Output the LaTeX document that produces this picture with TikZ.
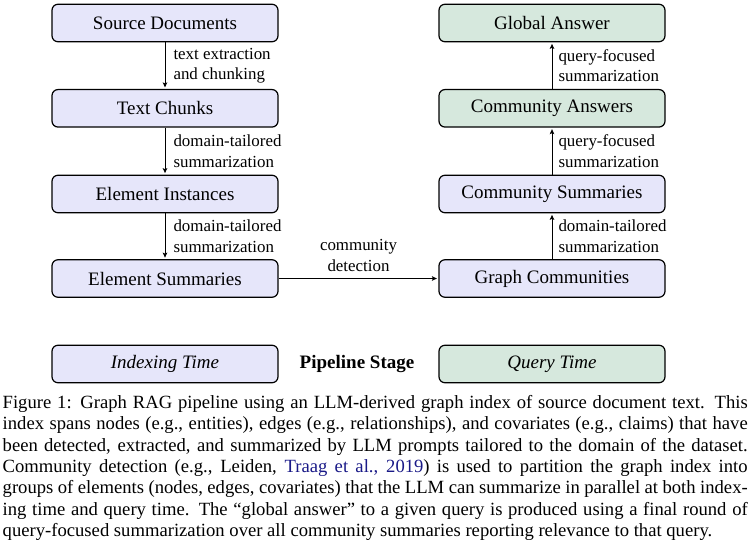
\documentclass[tikz,border=0pt]{standalone}
\usepackage{fontspec}
\setmainfont{Liberation Serif}
\usetikzlibrary{arrows.meta}
\definecolor{boxblue}{RGB}{230,230,250}
\definecolor{boxgreen}{RGB}{214,232,221}
\definecolor{citeblue}{RGB}{25,25,135}
\begin{document}
\begin{tikzpicture}[x=1pt,y=-1pt,
  stage/.style={draw=black, line width=1.2pt, rounded corners=6pt,
    minimum width=226pt, minimum height=37.5pt, inner sep=0pt,
    font=\fontsize{19}{22}\selectfont},
  idx/.style={stage, fill=boxblue},
  qry/.style={stage, fill=boxgreen},
  flow/.style={-{Stealth[length=5pt,width=4.5pt,inset=1pt]}, line width=1pt, shorten >=1.5pt},
  lbl/.style={font=\fontsize{16.9}{20.5}\selectfont, align=left, inner sep=0pt},
  capstyle/.style={anchor=north west, inner sep=0pt, text width=745pt,
    align=justify, font=\fontsize{18.64}{21.4}\selectfont}
]
\useasboundingbox (0,0) rectangle (750,546);
% left column
\node[idx] (src) at (165,23) {Source Documents};
\node[idx] (chk) at (165,108.3) {Text Chunks};
\node[idx] (ei)  at (165,194) {Element Instances};
\node[idx] (es)  at (165,278.5) {Element Summaries};
\node[idx] (it)  at (165,364) {\textit{Indexing Time}};
% right column
\node[qry] (ga) at (552,23) {Global Answer};
\node[qry] (ca) at (552,108.3) {Community Answers};
\node[idx] (cs) at (552,194) {Community Summaries};
\node[idx] (gc) at (552,278.5) {Graph Communities};
\node[qry] (qt) at (552,364) {\textit{Query Time}};
\node[anchor=base, inner sep=0pt, font=\fontsize{19}{22}\selectfont] (ps) at (357,368) {\textbf{Pipeline Stage}};
% connectors
\draw[flow] (src) -- node[lbl, anchor=west, xshift=8pt]{text extraction\\and chunking} (chk);
\draw[flow] (chk) -- node[lbl, anchor=west, xshift=8pt]{domain-tailored\\summarization} (ei);
\draw[flow] (ei) -- node[lbl, anchor=west, xshift=8pt]{domain-tailored\\summarization} (es);
\draw[flow] (es) -- node[lbl, anchor=south, align=center, yshift=6.5pt]{community\\detection} (gc);
\draw[flow] (gc) -- node[lbl, anchor=west, xshift=6pt]{domain-tailored\\summarization} (cs);
\draw[flow] (cs) -- node[lbl, anchor=west, xshift=6pt]{query-focused\\summarization} (ca);
\draw[flow] (ca) -- node[lbl, anchor=west, xshift=6pt]{query-focused\\summarization} (ga);
% caption
\node[capstyle] (cap) at (2.5,395) {Figure 1: Graph RAG pipeline using an LLM-derived graph index of source document text. This\linebreak
index spans nodes (e.g., entities), edges (e.g., relationships), and covariates (e.g., claims) that have\linebreak
been detected, extracted, and summarized by LLM prompts tailored to the domain of the dataset.\linebreak
Community detection (e.g., Leiden, \textcolor{citeblue}{Traag et al., 2019}) is used to partition the graph index into\linebreak
groups of elements (nodes, edges, covariates) that the LLM can summarize in parallel at both index-\linebreak
ing time and query time. The “global answer” to a given query is produced using a final round of\linebreak
query-focused summarization over all community summaries reporting relevance to that query.};
\end{tikzpicture}
\end{document}
